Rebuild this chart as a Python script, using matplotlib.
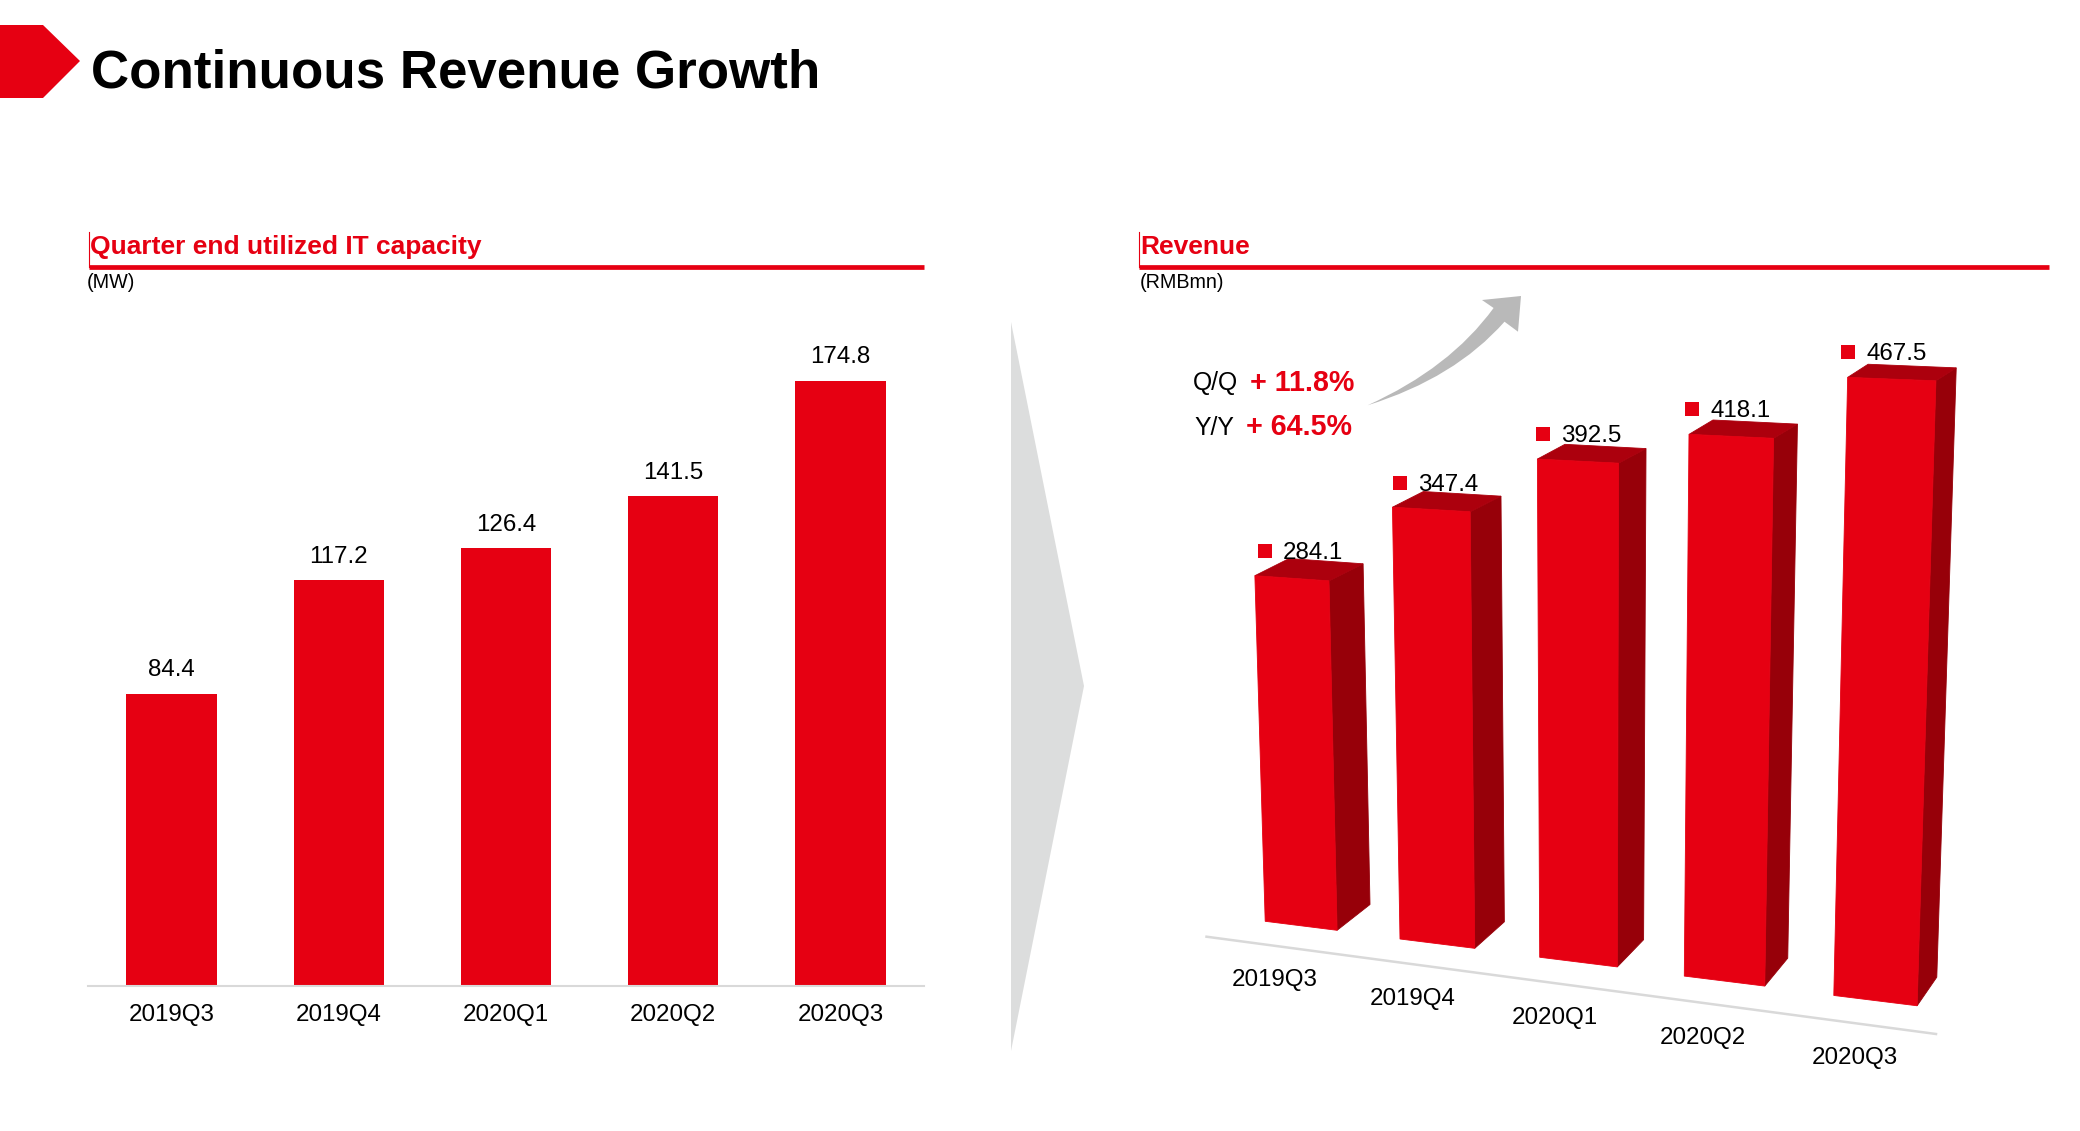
"""
Continuous Revenue Growth slide: flat bars on the left, pseudo 3D bars on the right
"""
import matplotlib
matplotlib.use('Agg')
import matplotlib.pyplot as plt
from matplotlib.patches import Polygon, PathPatch
from matplotlib.path import Path

W, H = 2080, 1131

quarters = ['2019Q3', '2019Q4', '2020Q1', '2020Q2', '2020Q3']
capacity = [84.4, 117.2, 126.4, 141.5, 174.8]
revenue = [284.1, 347.4, 392.5, 418.1, 467.5]

RED = '#E60012'
SIDE = '#970009'
TOP = '#AC000D'
LINE = '#D9D9D9'

plt.rcParams['font.family'] = ['Liberation Sans', 'DejaVu Sans']

fig = plt.figure(figsize=(W / 100, H / 100), dpi=100, facecolor='white')

# overlay in pixel coordinates, for the slide furniture and the 3D bars
pg = fig.add_axes([0, 0, 1, 1])
pg.set_xlim(0, W)
pg.set_ylim(H, 0)
pg.axis('off')

#########################
# Header
#########################
pg.add_patch(Polygon([(0, 25), (43, 25), (80, 61), (43, 98), (0, 98)], color=RED, lw=0))
pg.text(91, 87, 'Continuous Revenue Growth', fontsize=38.07, fontweight='bold',
        color='black', va='baseline')

for x0, x1, ux, title, unit in [(89, 924, 87, 'Quarter end utilized IT capacity', '(MW)'),
                                (1139, 2049, 1139.5, 'Revenue', '(RMBmn)')]:
    pg.plot([x0, x1], [267.3, 267.3], color=RED, lw=3.4, solid_capstyle='butt')
    pg.plot([x0, x0], [232, 267], color=RED, lw=0.8)
    pg.text(x0 + 1, 254, title, fontsize=19, fontweight='bold', color=RED, va='baseline')
    pg.text(ux, 288, unit, fontsize=14.2, color='black', va='baseline')

# big grey chevron between the charts
pg.add_patch(Polygon([(1011, 322), (1084, 686), (1011, 1051)], color='#DCDDDD', lw=0))

#########################
# Capacity (flat bars)
#########################
base_y = 985.6
top_y = 200
px_per_mw = 3.46

ax = fig.add_axes([88 / W, 1 - base_y / H, (924 - 88) / W, (base_y - top_y) / H])
ax.patch.set_alpha(0)
ax.bar(range(len(quarters)), capacity, 0.54, color=RED)
ax.set_xlim(-0.5, 4.5)
ax.set_ylim(0, (base_y - top_y) / px_per_mw)
ax.set_yticks([])
ax.set_xticks(range(len(quarters)))
ax.set_xticklabels(quarters, fontsize=17.4)
ax.tick_params(axis='x', length=0, pad=13.5)
for s in ['top', 'left', 'right']:
    ax.spines[s].set_visible(False)
ax.spines['bottom'].set_color(LINE)
ax.spines['bottom'].set_linewidth(1.5)
for i, v in enumerate(capacity):
    ax.annotate('%.1f' % v, (i, v), xytext=(0, 9), textcoords='offset points',
                ha='center', va='bottom', fontsize=17.4)


#########################
# Revenue (3D bars)
#########################
def project(i, u, d, v):
    """pixel position on bar i: u across the front, d into the depth, v up in RMBmn"""
    x = 1265.2 + 134.8 * i + 2.45 * i * (i - 1) + u * (71.9 + 2.85 * i) + d * (32.9 - 3.3 * i)
    y = 921.3 + 17.7 * i + 0.28 * i * (i - 1) + u * (9 + 0.33 * i) - d * (25.8 + 0.7 * i)
    h = v * (1.230 + 0.0267 * i) * (1 - (1 - u) * 0.011) * (1 - d * 0.025)
    return x + h * 0.000092 * (x - 1590), y - h


pg.plot([1206.5, 1936], [936.7, 1034], color=LINE, lw=1.8)

for i, v in enumerate(revenue):
    front = [project(i, u, 0, w) for u, w in [(0, 0), (1, 0), (1, v), (0, v)]]
    side = [project(i, 1, d, w) for d, w in [(0, 0), (1, 0), (1, v), (0, v)]]
    top = [project(i, u, d, v) for u, d in [(0, 0), (1, 0), (1, 1), (0, 1)]]
    # same colour edge closes the seams between the faces
    pg.add_patch(Polygon(side, fc=SIDE, ec=SIDE, lw=0.6))
    pg.add_patch(Polygon(top, fc=TOP, ec=TOP, lw=0.6))
    pg.add_patch(Polygon(front, fc=RED, ec=RED, lw=0.6))

    # small legend key and value over the back edge of the top
    bx, by = project(i, 0, 1, v)
    mx = bx - 24.5 + 1.2 * i
    my = by - 6 - i
    pg.plot(mx, my - 2, 's', color=RED, ms=9.6, mew=0)
    pg.text(mx + 18, my, '%.1f' % v, fontsize=17.4, va='center', ha='left', zorder=5)

    # category label under the ground line
    fx, fy = project(i, 0, 0, 0)
    pg.text(fx + 9.5 + 3 * i, fy + 59 + 0.9 * i, quarters[i], fontsize=17.4,
            ha='center', va='center')

# growth callout
pg.text(1192.5, 390, 'Q/Q', fontsize=17.8, va='baseline')
pg.text(1250, 391, '+ 11.8%', fontsize=20.6, fontweight='bold', color=RED, va='baseline')
pg.text(1194, 435, 'Y/Y', fontsize=17.8, va='baseline')
pg.text(1246, 435, '+ 64.5%', fontsize=20.6, fontweight='bold', color=RED, va='baseline')

arrow = Path([(1367.6, 405.3), (1450, 368), (1493.6, 308), (1482, 300), (1521, 296),
              (1518, 331.7), (1504.5, 321.7), (1455, 378), (1367.6, 405.3)],
             [Path.MOVETO, Path.CURVE3, Path.CURVE3, Path.LINETO, Path.LINETO,
              Path.LINETO, Path.LINETO, Path.CURVE3, Path.CURVE3])
pg.add_patch(PathPatch(arrow, facecolor='#B9B9B9', edgecolor='none', lw=0))

fig.savefig('out.png', dpi=100, facecolor='white')
